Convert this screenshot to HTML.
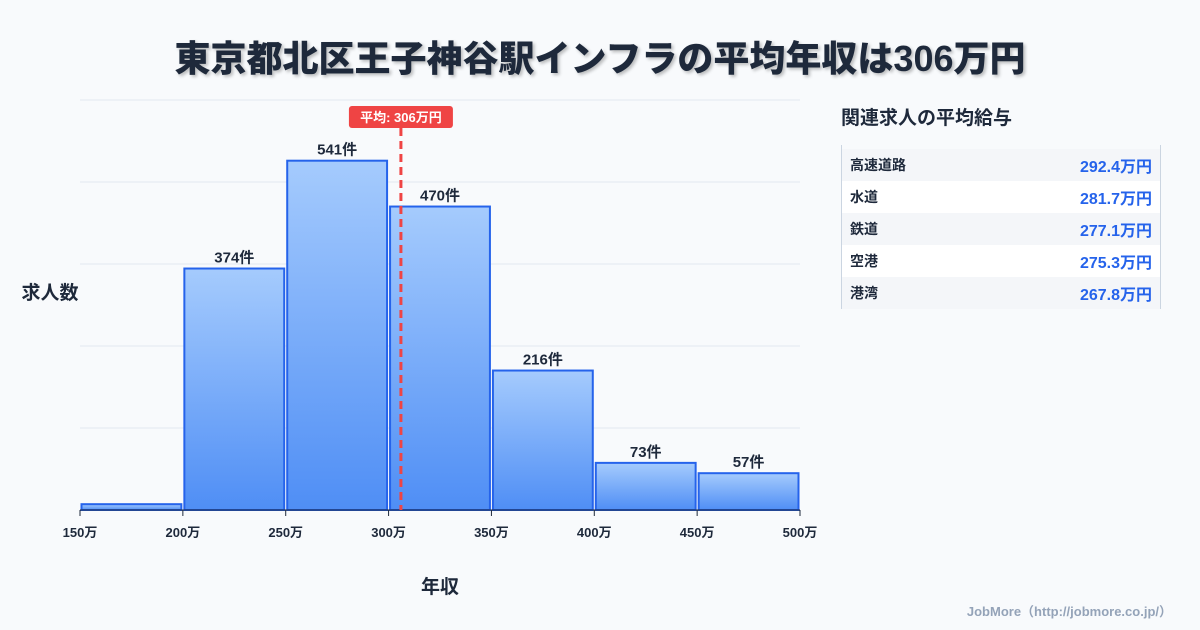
<!DOCTYPE html>
<html><head><meta charset="utf-8"><style>
body{margin:0;width:1200px;height:630px;background:#f8fafc;font-family:"Liberation Sans","Noto Sans CJK JP",sans-serif;overflow:hidden;position:relative}
.title{position:absolute;top:30px;left:0;width:1200px;text-align:center;font-size:36px;font-weight:900;color:#1e293b;text-shadow:2px 2px 3px rgba(0,0,0,0.25)}
.side{position:absolute;left:841px;top:103px;font-size:19px;font-weight:700;color:#1e293b}
.tbl{position:absolute;left:841px;top:145px;width:318px;padding-top:4px;border-left:1px solid #cbd5e1;border-right:1px solid #cbd5e1}
.row{height:32px;display:flex;justify-content:space-between;align-items:center;padding:0 8px 0 8px;font-size:14px;font-weight:700;color:#1e293b}
.row:nth-child(odd){background:#f4f6f9}.row:nth-child(even){background:#fff}
.row span:last-child{color:#2563eb;font-size:16px}
.credit{position:absolute;right:28px;bottom:10px;font-size:13px;font-weight:700;color:#94a3b8}
</style></head><body>
<div class="title">東京都北区王子神谷駅インフラの平均年収は306万円</div>
<svg width="1200" height="630" style="position:absolute;left:0;top:0" id="chart">
<defs><linearGradient id="g" x1="0" y1="0" x2="0" y2="1"><stop offset="0" stop-color="#a5cbfd"/><stop offset="1" stop-color="#4f8ef5"/></linearGradient></defs>
</svg>
<div class="side">関連求人の平均給与</div>
<div class="tbl">
<div class="row"><span>高速道路</span><span>292.4万円</span></div>
<div class="row"><span>水道</span><span>281.7万円</span></div>
<div class="row"><span>鉄道</span><span>277.1万円</span></div>
<div class="row"><span>空港</span><span>275.3万円</span></div>
<div class="row"><span>港湾</span><span>267.8万円</span></div>
</div>
<div class="credit">JobMore（http://jobmore.co.jp/）</div>
<script>
const binStarts=[150,200,250,300,350,400,450];
const counts=[9,374,541,470,216,73,57];
const tickLabels=[150,200,250,300,350,400,450,500];
const meanValue=306;
const yMax=635;
const NS="http://www.w3.org/2000/svg";
const svg=document.getElementById('chart');
const x=v=>80+(v-150)*720/350;
const y=v=>510-v*410/yMax;
function mk(t,a){const e=document.createElementNS(NS,t);for(const k in a)e.setAttribute(k,a[k]);svg.appendChild(e);return e;}
for(let i=0;i<=5;i++){const g=mk('line',{x1:80,x2:800,y1:510-i*82,y2:510-i*82,stroke:'#e2e8f0','stroke-width':1});

}
binStarts.forEach((b,i)=>{
const r=mk('rect',{x:x(b)+1.5,y:y(counts[i]),width:x(b+50)-x(b)-3,height:510-y(counts[i]),fill:'url(#g)',stroke:'#2563eb','stroke-width':2});


if(i>0){const t=mk('text',{x:(x(b)+x(b+50))/2,y:y(counts[i])-6,'text-anchor':'middle','font-size':15,'font-weight':700,fill:'#1e293b'});t.textContent=counts[i]+'件';

}
});
mk('line',{x1:80,x2:800,y1:510,y2:510,stroke:'#1e293b','stroke-width':1});
tickLabels.forEach(v=>{const l=mk('line',{x1:x(v),x2:x(v),y1:510,y2:516,stroke:'#1e293b'});


const t=mk('text',{x:x(v),y:537,'text-anchor':'middle','font-size':13,'font-weight':700,fill:'#1e293b'});t.textContent=v+'万';

});
const ml=mk('line',{x1:x(meanValue),x2:x(meanValue),y1:128,y2:510,stroke:'#ef4444','stroke-width':3,'stroke-dasharray':'8,5'});


const mb=mk('rect',{x:x(meanValue)-52,y:106,width:104,height:22,rx:3,fill:'#ef4444'});


const mt=mk('text',{x:x(meanValue),y:122,'text-anchor':'middle','font-size':13,'font-weight':700,fill:'#fff'});mt.textContent='平均: '+meanValue+'万円';


const yt=mk('text',{x:50,y:299,'text-anchor':'middle','font-size':19,'font-weight':700,fill:'#1e293b'});yt.textContent='求人数';


const xt=mk('text',{x:440,y:593,'text-anchor':'middle','font-size':19,'font-weight':700,fill:'#1e293b'});xt.textContent='年収';


</script>
</body></html>
